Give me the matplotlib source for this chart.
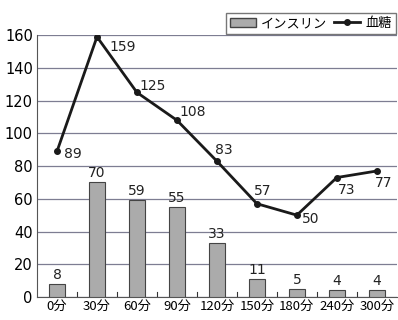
import matplotlib
matplotlib.use("Agg")
import matplotlib.pyplot as plt
from matplotlib.lines import Line2D
from matplotlib.patches import Patch

plt.rcParams['font.family'] = ['Noto Sans CJK JP', 'DejaVu Sans']

categories = ["0分", "30分", "60分", "90分", "120分", "150分", "180分", "240分", "300分"]
insulin = [8, 70, 59, 55, 33, 11, 5, 4, 4]
glucose = [89, 159, 125, 108, 83, 57, 50, 73, 77]

# label offsets for the glucose values (points), and alignment
gl_offsets = [(5, -2), (9, -7), (2, 5), (2, 6), (5, 8), (4, 9), (4, -3), (7, -9), (5, -9)]
gl_ha = ["left", "left", "left", "left", "center", "center", "left", "center", "center"]

fig = plt.figure(figsize=(3.98, 3.2), dpi=100)
ax = fig.add_axes([0.093, 0.072, 0.904, 0.818])

x = list(range(len(categories)))
ax.bar(x, insulin, width=0.4, color="#ababab", edgecolor="#444444", linewidth=0.8, zorder=3)
for xi, v in zip(x, insulin):
    ax.annotate(str(v), (xi, v), xytext=(0, 1.5), textcoords="offset points",
                ha="center", va="bottom", fontsize=10, color="#222222", zorder=5,
                family="DejaVu Sans")

ax.plot(x, glucose, color="#1a1a1a", linewidth=2, marker="o", markersize=4, zorder=4)
for xi, v, off, ha in zip(x, glucose, gl_offsets, gl_ha):
    ax.annotate(str(v), (xi, v), xytext=off, textcoords="offset points",
                ha=ha, va="center", fontsize=10, color="#222222", zorder=5,
                family="DejaVu Sans")

ax.set_xlim(-0.5, len(categories) - 0.5)
ax.set_ylim(0, 160)
ax.set_yticks(range(0, 161, 20))
ax.set_xticks(x)
ax.set_xticklabels(categories, fontsize=9.5)
ax.tick_params(axis="y", labelsize=10.5, length=0, pad=3)
ax.tick_params(axis="x", length=0, pad=2)
for lbl in ax.get_yticklabels():
    lbl.set_family("DejaVu Sans")
for b in [xi + 0.5 for xi in x[:-1]]:
    ax.plot([b, b], [0, 3], color="#333333", linewidth=0.8, zorder=2)
ax.yaxis.grid(True, color="#7d7d92", linewidth=0.9, zorder=0)
ax.set_axisbelow(True)
for s in ["top", "right"]:
    ax.spines[s].set_visible(False)
ax.spines["left"].set_color("#555555")
ax.spines["bottom"].set_color("#555555")

handles = [Patch(facecolor="#ababab", edgecolor="#444444", label="インスリン"),
           Line2D([0], [0], color="#1a1a1a", lw=2, marker="o", markersize=4, label="血糖")]
fig.legend(handles=handles, loc="upper right", bbox_to_anchor=(1.012, 0.98), ncol=2,
           fontsize=9.5, frameon=True, fancybox=False, edgecolor="#555555",
           handlelength=2.0, handletextpad=0.4, columnspacing=0.5, borderpad=0.3)

fig.savefig("out.png", dpi=100)
